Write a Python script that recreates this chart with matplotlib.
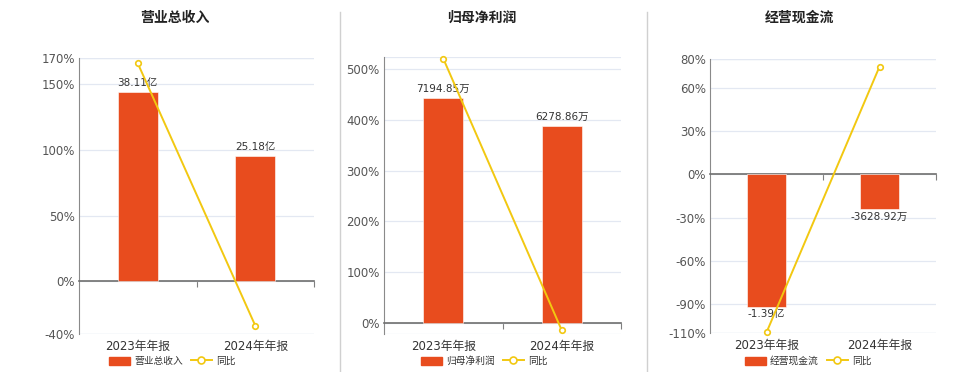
import matplotlib
matplotlib.use('Agg')
import matplotlib.pyplot as plt
from matplotlib.lines import Line2D
from matplotlib.patches import Patch
import matplotlib.transforms as mtrans

plt.rcParams['font.family'] = ['DejaVu Sans', 'Noto Sans CJK SC']

# data
years = ['2023年年报', '2024年年报']

titles = ['营业总收入', '归母净利润', '经营现金流']
bar_names = ['营业总收入', '归母净利润', '经营现金流']

revenue = [38.11, 25.18]             # 亿
revenue_labels = ['38.11亿', '25.18亿']
revenue_yoy = [166.0, -33.6]         # %

profit = [7194.85, 6278.86]          # 万
profit_labels = ['7194.85万', '6278.86万']
profit_yoy = [520.0, -13.7]

cashflow = [-13900.0, -3628.92]      # 万
cashflow_labels = ['-1.39亿', '-3628.92万']
cashflow_yoy = [-109.6, 74.7]

pct_ticks = [[-40, 0, 50, 100, 150, 170],
             [0, 100, 200, 300, 400, 500],
             [-110, -90, -60, -30, 0, 30, 60, 80]]
pct_lims = [(-40, 170), (-21, 523), (-110, 80)]
bar_tops = [45.0, 8494.0, 12121.0]   # bar value at the top of each panel

W, H = 960, 372
BAR = '#E84C1E'
LINE = '#F2C811'
GRID = '#E3E8F2'
TXT = '#333333'

fig = plt.figure(figsize=(W / 100, H / 100), dpi=100)


def rect(l, t, r, b):
    return [l / W, 1 - b / H, (r - l) / W, (b - t) / H]


boxes = [rect(79, 58, 314, 334), rect(384, 57, 621, 334), rect(710, 59, 936, 333)]
title_x = [175, 482, 799]
legend_x = [172, 484, 808]

bars_all = [revenue, profit, cashflow]
labels_all = [revenue_labels, profit_labels, cashflow_labels]
yoy_all = [revenue_yoy, profit_yoy, cashflow_yoy]

x = list(range(len(years)))

for i in range(3):
    lo, hi = pct_lims[i]
    ax = fig.add_axes(boxes[i])
    ax.set_xlim(-0.5, 1.5)
    ax.set_ylim(lo, hi)
    ax.set_yticks(pct_ticks[i])
    ax.set_yticklabels([f'{t}%' for t in pct_ticks[i]])
    ax.tick_params(axis='y', length=0, labelsize=8.5, labelcolor='#555555', pad=3)
    ax.grid(axis='y', color=GRID, lw=0.9)
    ax.set_axisbelow(True)
    for s in ['top', 'right']:
        ax.spines[s].set_visible(False)
    ax.axhline(hi, color=GRID, lw=0.9)
    ax.axhline(lo, color=GRID, lw=0.9)
    ax.spines['left'].set_color('#8a8a8a')
    ax.spines['bottom'].set_position(('data', 0))
    ax.spines['bottom'].set_color('#6f6f6f')
    ax.spines['bottom'].set_linewidth(1.2)
    ax.set_xticks([0.5, 1.5])
    ax.set_xticklabels([])
    ax.tick_params(axis='x', length=4, color='#7f7f7f', direction='out')

    off = mtrans.offset_copy(ax.get_xaxis_transform(), fig=fig, x=0, y=-12, units='dots')
    for xi, lab in zip(x, years):
        ax.text(xi, 0, lab, transform=off, ha='center', va='center',
                fontsize=8.5, color=TXT)

    # bars on their own scale, zero aligned with the percent axis
    top = bar_tops[i]
    axb = ax.twinx()
    axb.set_ylim(top * lo / hi, top)
    axb.axis('off')
    bars = axb.bar(x, bars_all[i], width=0.34, color=BAR, edgecolor='white', linewidth=0.4)
    for b, v, lab in zip(bars, bars_all[i], labels_all[i]):
        up = v >= 0
        axb.annotate(lab, (b.get_x() + b.get_width() / 2, v),
                     xytext=(0, 3 if up else -2), textcoords='offset points',
                     ha='center', va='bottom' if up else 'top',
                     fontsize=7.5, color=TXT)

    axl = ax.twinx()
    axl.set_ylim(lo, hi)
    axl.axis('off')
    axl.plot(x, yoy_all[i], color=LINE, lw=1.4, marker='o', ms=4,
             mfc='white', mec=LINE, mew=1.2, clip_on=False)

    fig.text(title_x[i] / W, 1 - 18 / H, titles[i], ha='center', va='center',
             fontsize=10, fontweight='bold', color='#222222')

    handles = [Patch(facecolor=BAR, edgecolor=BAR),
               Line2D([], [], color=LINE, lw=1.4, marker='o', ms=5,
                      mfc='white', mec=LINE, mew=1.2)]
    fig.legend(handles, [bar_names[i], '同比'], loc='center',
               bbox_to_anchor=(legend_x[i] / W, 1 - 361 / H), ncol=2,
               frameon=False, fontsize=7, handlelength=2.2, handleheight=0.9,
               handletextpad=0.4, columnspacing=0.8, labelcolor=TXT)

# thin dividers between the panels
for dx in [340, 647]:
    fig.add_artist(Line2D([dx / W, dx / W], [0, 1 - 12 / H],
                          transform=fig.transFigure, color='#d0d0d0', lw=1))

fig.savefig('out.png', dpi=100, facecolor='white')
